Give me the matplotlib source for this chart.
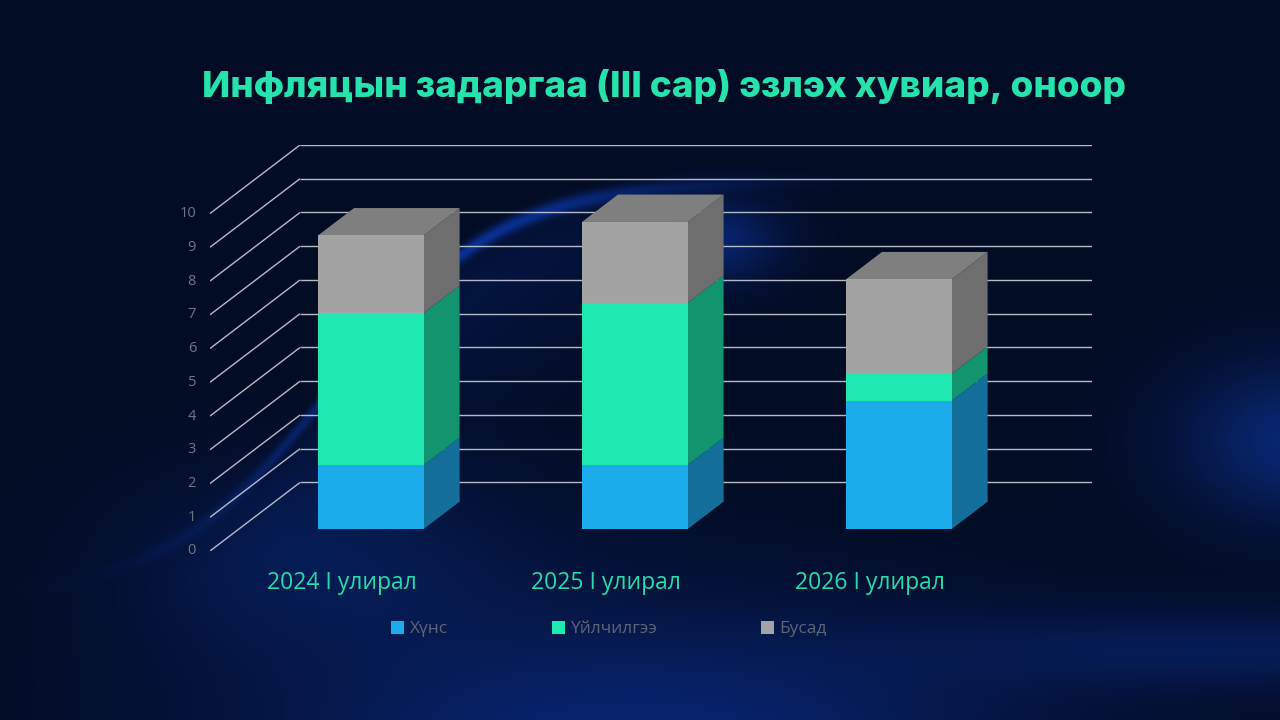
import numpy as np
import matplotlib.pyplot as plt
from matplotlib.patches import Polygon, Patch

# --- data ---
categories = ["2024 I улирал", "2025 I улирал", "2026 I улирал"]
series_names = ["Хүнс", "Үйлчилгээ", "Бусад"]
food = [1.9, 1.9, 3.8]
services = [4.5, 4.8, 0.8]
other = [2.3, 2.4, 2.8]
y_ticks = list(range(0, 11))
title = "Инфляцын задаргаа (III сар) эзлэх хувиар, оноор"

front_colors = ["#1bacec", "#1ce8b0", "#a3a3a3"]
side_colors = ["#136f9a", "#12946e", "#6e6e6e"]
top_color = "#7f7f7f"

# fake 3d: depth offset in data units
DX, DY = 0.341, 2.03
D0, D1 = 0.32, 0.72
BAR_W = 0.4

W, H = 1280, 720
fig = plt.figure(figsize=(W / 100, H / 100), dpi=100)

# --- background (decorative gradient + swoosh) ---
yy, xx = np.mgrid[0:H, 0:W].astype(float)
img = np.zeros((H, W, 3))
img[:] = np.array([2, 12, 36]) / 255.0


def glow(cx, cy, sx, sy, rgb, amp):
    g = np.exp(-(((xx - cx) / sx) ** 2 + ((yy - cy) / sy) ** 2))
    return g[..., None] * (np.array(rgb) / 255.0) * amp


img += glow(640, 760, 380, 150, (8, 32, 100), 0.8)
img += glow(1300, 440, 120, 80, (10, 38, 110), 0.7)
img += glow(1250, 650, 320, 40, (8, 32, 100), 0.45)
img += glow(330, 560, 200, 100, (5, 20, 60), 0.6)
img += glow(720, 240, 60, 40, (10, 45, 140), 0.45)

# swoosh curve, brightest on its edge, lighter region under it
yc = 600 - 420 / (1 + np.exp(-(xx - 330) / 85))
dist = yy - yc
fade = np.exp(-((xx - 470) / 220) ** 2)
band = np.exp(-(dist / 8) ** 2) * fade
under = np.clip(dist, 0, None) / 50 * np.exp(-np.clip(dist, 0, None) / 50) * fade
img += band[..., None] * np.array([12, 55, 170]) / 255.0 * 0.65
img += under[..., None] * np.array([6, 28, 90]) / 255.0 * 0.8
img = np.clip(img, 0, 1)

bg = fig.add_axes([0, 0, 1, 1], zorder=0)
bg.imshow(img, aspect="auto", interpolation="bilinear")
bg.axis("off")

# --- chart axes ---
ax = fig.add_axes([210 / W, 169 / H, 882 / W, 406 / H], zorder=1)
ax.set_xlim(-0.5, 2.5 + DX)
ax.set_ylim(0, 10 + DY)
ax.axis("off")
ax.patch.set_alpha(0)

grid_kw = dict(color="#c9cdd6", linewidth=1.0, alpha=0.9, zorder=1, solid_capstyle="butt")
for v in y_ticks:
    ax.plot([-0.5, -0.5 + DX], [v, v + DY], **grid_kw)
    ax.plot([-0.5 + DX, 2.5 + DX], [v + DY, v + DY], **grid_kw)
    ax.text(-0.553, v, str(v), ha="right", va="center", fontsize=10.5,
            color="#6f7684", family="Open Sans")

stacks = [food, services, other]
x = np.arange(len(categories))
bottoms = np.zeros(len(categories))
for s, vals in enumerate(stacks):
    vals = np.array(vals)
    ax.bar(x + D0 * DX, vals, bottom=bottoms + D0 * DY, width=BAR_W,
           color=front_colors[s], zorder=4, linewidth=0)
    for i in range(len(categories)):
        xr = x[i] + BAR_W / 2
        b, t = bottoms[i], bottoms[i] + vals[i]
        side = [(xr + D0 * DX, b + D0 * DY), (xr + D1 * DX, b + D1 * DY),
                (xr + D1 * DX, t + D1 * DY), (xr + D0 * DX, t + D0 * DY)]
        ax.add_patch(Polygon(side, closed=True, facecolor=side_colors[s],
                             edgecolor="none", zorder=3))
    bottoms = bottoms + vals

for i in range(len(categories)):
    xl, xr, t = x[i] - BAR_W / 2, x[i] + BAR_W / 2, bottoms[i]
    top = [(xl + D0 * DX, t + D0 * DY), (xr + D0 * DX, t + D0 * DY),
           (xr + D1 * DX, t + D1 * DY), (xl + D1 * DX, t + D1 * DY)]
    ax.add_patch(Polygon(top, closed=True, facecolor=top_color,
                         edgecolor="none", zorder=3))
    ax.text(x[i], -0.95, categories[i], ha="center", va="center", fontsize=16.5,
            color="#25dcaa", family="Open Sans")

# --- legend ---
handles = [Patch(facecolor=c, edgecolor="none") for c in front_colors]
fig.legend(handles, series_names, loc="center", bbox_to_anchor=(609 / W, 1 - 629 / H),
           ncol=3, frameon=False, columnspacing=6.0, handlelength=0.75,
           handleheight=0.75, handletextpad=0.3,
           labelcolor="#5e6676", prop={"family": "Open Sans", "size": 12.5})

fig.text(664 / W, 1 - 87 / H, title, ha="center", va="center", fontsize=26.5,
         fontweight="heavy", family="Inter", color="#26e2ac")

fig.savefig("out.png", dpi=100)
